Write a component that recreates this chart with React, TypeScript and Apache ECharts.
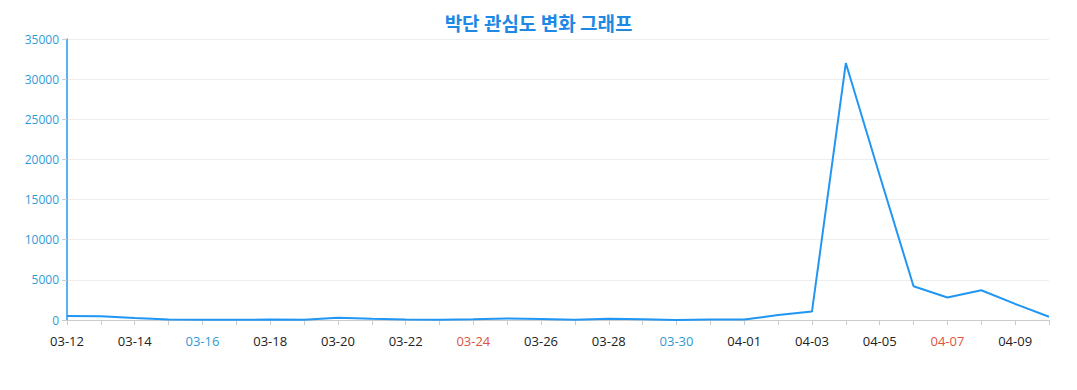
import React, { useEffect, useRef } from "react";
import * as echarts from "echarts";

const dates = [
  "03-12", "03-13", "03-14", "03-15", "03-16", "03-17", "03-18", "03-19", "03-20", "03-21",
  "03-22", "03-23", "03-24", "03-25", "03-26", "03-27", "03-28", "03-29", "03-30", "03-31",
  "04-01", "04-02", "04-03", "04-04", "04-05", "04-06", "04-07", "04-08", "04-09", "04-10",
];
const values = [
  500, 480, 250, 50, 20, 30, 50, 40, 280, 150,
  60, 20, 80, 180, 130, 30, 150, 100, 10, 50,
  50, 620, 1050, 32000, 18000, 4200, 2800, 3700, 2000, 400,
];
const blueDates = ["03-16", "03-30"];
const redDates = ["04-07", "03-24"];
const titleText = "박단 관심도 변화 그래프";

export default function App() {
  const ref = useRef<HTMLDivElement>(null);
  useEffect(() => {
    if (!ref.current) return;
    const chart = echarts.init(ref.current, null, { renderer: "svg" });
    chart.setOption({
      animation: false,
      title: {
        text: titleText,
        left: "center",
        top: 0,
        textStyle: {
          color: "#1E88E5",
          fontSize: 19,
          fontWeight: "bold",
          fontFamily: "Noto Sans CJK KR",
        },
      },
      grid: { left: 59, right: 20, top: 31, bottom: 62 },
      xAxis: {
        type: "category",
        data: dates,
        boundaryGap: false,
        axisLine: { lineStyle: { color: "#cccccc" } },
        axisTick: { interval: 0, lineStyle: { color: "#cccccc" } },
        axisLabel: {
          interval: 1,
          margin: 14,
          fontSize: 13,
          fontFamily: "Open Sans",
          color: "#222222",
          formatter: (v: string) =>
            blueDates.includes(v) ? `{b|${v}}` : redDates.includes(v) ? `{r|${v}}` : v,
          rich: {
            b: { color: "#2E9BD6", fontSize: 13, fontFamily: "Open Sans" },
            r: { color: "#E0533C", fontSize: 13, fontFamily: "Open Sans" },
          },
        },
        splitLine: { show: false },
      },
      yAxis: {
        type: "value",
        min: 0,
        max: 35000,
        interval: 5000,
        axisLine: { show: true, lineStyle: { color: "#2196F3", width: 1.5 } },
        axisTick: { show: true, lineStyle: { color: "#cccccc" } },
        axisLabel: {
          color: "#2E9BD6",
          fontSize: 12,
          fontFamily: "Open Sans",
          formatter: (v: number) => String(v),
        },
        splitLine: { lineStyle: { color: "#eeeeee" } },
      },
      series: [
        {
          type: "line",
          data: values,
          symbol: "none",
          lineStyle: { color: "#2196F3", width: 2 },
        },
      ],
    });
    return () => chart.dispose();
  }, []);
  return <div ref={ref} style={{ width: 1061, height: 374 }} />;
}
